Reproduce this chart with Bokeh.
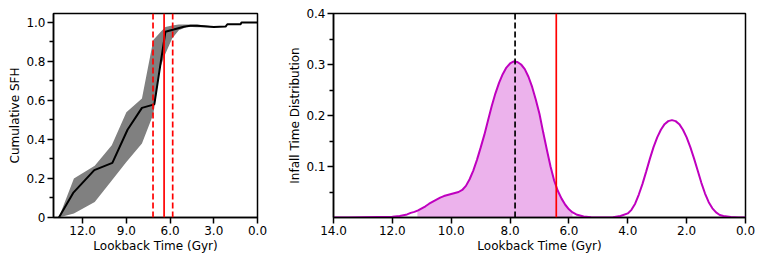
import numpy as np
from bokeh.plotting import figure
from bokeh.layouts import row
from bokeh.models import Range1d, FixedTicker, PrintfTickFormatter, Span
from bokeh.embed import file_html
from bokeh.resources import INLINE

# ---------------- data: left panel (cumulative SFH) ----------------
sfh_t = [13.63, 12.65, 11.2, 9.96, 8.92, 7.93, 7.08, 6.32, 5.75, 5.06, 4.6, 4.14, 3.0, 2.19, 2.07, 1.15, 1.1, 0.0]
sfh_v = [0.0, 0.126, 0.243, 0.28, 0.45, 0.562, 0.58, 0.952, 0.964, 0.978, 0.983, 0.983, 0.977, 0.979, 0.991, 0.991, 1.0, 1.0]

band_t = [13.63, 12.6, 11.17, 10.0, 9.0, 7.93, 7.15, 6.67, 6.32, 5.86, 5.4, 4.83, 4.16, 3.1]
band_hi = [0.0, 0.20, 0.265, 0.37, 0.54, 0.61, 0.91, 0.95, 0.977, 0.985, 0.99, 0.99, 0.99, 0.98]
band_lo = [0.0, 0.02, 0.08, 0.19, 0.285, 0.38, 0.53, 0.77, 0.84, 0.918, 0.96, 0.978, 0.975, 0.975]

sfh_median = 6.41
sfh_lo_q = 7.17
sfh_hi_q = 5.82

left_xticks = [12.0, 9.0, 6.0, 3.0, 0.0]
left_yticks = [0.0, 0.2, 0.4, 0.6, 0.8, 1.0]
left_yminor = [0.1, 0.3, 0.5, 0.7, 0.9]

# ---------------- data: right panel (infall time distribution) ----------------
inf_t = [14.0, 13.5, 13.0, 12.5, 12.0, 11.75, 11.5, 11.375, 11.25, 11.125,
         11.0, 10.875, 10.75, 10.625, 10.5, 10.375, 10.25, 10.125,
         10.0, 9.875, 9.75, 9.625, 9.5, 9.375, 9.25, 9.125,
         9.0, 8.875, 8.75, 8.625, 8.5, 8.375, 8.25, 8.125,
         8.0, 7.875, 7.75, 7.625, 7.5, 7.375, 7.25, 7.125,
         7.0, 6.875, 6.75, 6.625, 6.5, 6.375, 6.25, 6.125,
         6.0, 5.875, 5.75, 5.5, 5.25, 5.0, 4.75, 4.5, 4.25,
         4.0, 3.875, 3.75, 3.625, 3.5, 3.375, 3.25, 3.125,
         3.0, 2.875, 2.75, 2.625, 2.5, 2.375, 2.25, 2.125,
         2.0, 1.875, 1.75, 1.625, 1.5, 1.375, 1.25, 1.125,
         1.0, 0.875, 0.75, 0.5, 0.25, 0.0]
inf_v = [0.0, 0.0, 0.0005, 0.001, 0.0015, 0.003, 0.006, 0.009, 0.011, 0.014,
         0.018, 0.022, 0.027, 0.031, 0.035, 0.039, 0.042, 0.044,
         0.046, 0.048, 0.050, 0.054, 0.062, 0.075, 0.092, 0.113,
         0.137, 0.162, 0.190, 0.218, 0.243, 0.264, 0.281, 0.294,
         0.302, 0.306, 0.305, 0.300, 0.291, 0.276, 0.256, 0.231,
         0.203, 0.167, 0.133, 0.100, 0.072, 0.052, 0.037, 0.025,
         0.016, 0.010, 0.006, 0.002, 0.0005, 0.0, 0.0, 0.0005, 0.003,
         0.008, 0.015, 0.027, 0.045, 0.066, 0.090, 0.115, 0.138,
         0.157, 0.172, 0.183, 0.189, 0.191, 0.189, 0.183, 0.172,
         0.157, 0.138, 0.116, 0.092, 0.068, 0.047, 0.030, 0.018,
         0.010, 0.005, 0.003, 0.001, 0.0, 0.0]

fill_start = 11.15
fill_end = 5.88
infall_peak = 7.83
infall_ref = 6.43

right_xticks = [14.0, 12.0, 10.0, 8.0, 6.0, 4.0, 2.0, 0.0]
right_yticks = [0.1, 0.2, 0.3, 0.4]
right_yminor = [0.05, 0.15, 0.25, 0.35]

FONT = "DejaVu Sans"
MAGENTA = "#bf00bf"


def style(p):
    p.xgrid.visible = False
    p.ygrid.visible = False
    p.outline_line_color = "black"
    p.outline_line_width = 1.5
    p.background_fill_color = "white"
    p.border_fill_color = "white"
    for ax in (p.xaxis[0], p.yaxis[0]):
        ax.axis_line_color = "black"
        ax.axis_line_width = 1.5
        ax.major_tick_line_color = "black"
        ax.major_tick_line_width = 1.5
        ax.minor_tick_line_color = "black"
        ax.minor_tick_line_width = 1.5
        ax.major_tick_in = 0
        ax.major_tick_out = 6
        ax.minor_tick_in = 0
        ax.minor_tick_out = 4
        ax.major_label_text_font = FONT
        ax.major_label_text_font_size = "12px"
        ax.major_label_text_color = "black"
        ax.axis_label_text_font = FONT
        ax.axis_label_text_font_size = "12px"
        ax.axis_label_text_font_style = "normal"
        ax.axis_label_text_color = "black"
        ax.major_label_standoff = 2
        ax.axis_label_standoff = 1


# ---------------- left figure ----------------
p1 = figure(frame_width=204, frame_height=204, output_backend="svg", toolbar_location=None,
            x_range=Range1d(14.0, 0.0), y_range=Range1d(0.0, 1.046),
            min_border_left=53, min_border_right=10, min_border_top=13, min_border_bottom=34)
style(p1)
p1.varea(x=band_t, y1=band_lo, y2=band_hi, fill_color="#808080", fill_alpha=1.0)
p1.line(sfh_t, sfh_v, line_color="black", line_width=2)
for loc, dash in ((sfh_lo_q, "6 3"), (sfh_median, "solid"), (sfh_hi_q, "6 3")):
    p1.add_layout(Span(location=loc, dimension="height", line_color="red",
                       line_width=1.7, line_dash=dash))
p1.xaxis.ticker = FixedTicker(ticks=left_xticks, minor_ticks=[])
p1.xaxis.formatter = PrintfTickFormatter(format="%.1f")
p1.yaxis.ticker = FixedTicker(ticks=left_yticks, minor_ticks=left_yminor)
p1.yaxis.formatter = PrintfTickFormatter(format="%.1f")
p1.yaxis.major_label_overrides = {0: "0"}
p1.xaxis.axis_label = "Lookback Time (Gyr)"
p1.yaxis.axis_label = "Cumulative SFH"

# ---------------- right figure ----------------
p2 = figure(frame_width=412, frame_height=204, output_backend="svg", toolbar_location=None,
            x_range=Range1d(14.0, 0.0), y_range=Range1d(0.0, 0.4),
            min_border_left=66, min_border_right=15, min_border_top=13, min_border_bottom=34)
style(p2)
t_arr = np.array(inf_t)
v_arr = np.array(inf_v)
mask = (t_arr > fill_end) & (t_arr < fill_start)
order = np.argsort(t_arr)
fx = np.concatenate(([fill_start], t_arr[mask], [fill_end]))
fy = np.concatenate(([np.interp(fill_start, t_arr[order], v_arr[order])], v_arr[mask],
                     [np.interp(fill_end, t_arr[order], v_arr[order])]))
p2.varea(x=fx, y1=np.zeros_like(fy), y2=fy, fill_color=MAGENTA, fill_alpha=0.3)
p2.line(inf_t, inf_v, line_color=MAGENTA, line_width=2)
p2.add_layout(Span(location=infall_peak, dimension="height", line_color="black",
                   line_width=1.7, line_dash="6 3"))
p2.add_layout(Span(location=infall_ref, dimension="height", line_color="red",
                   line_width=1.7))
p2.xaxis.ticker = FixedTicker(ticks=right_xticks, minor_ticks=[])
p2.xaxis.formatter = PrintfTickFormatter(format="%.1f")
p2.yaxis.ticker = FixedTicker(ticks=right_yticks, minor_ticks=right_yminor)
p2.yaxis.formatter = PrintfTickFormatter(format="%.1f")
p2.xaxis.axis_label = "Lookback Time (Gyr)"
p2.yaxis.axis_label = "Infall Time Distribution"

layout = row(p1, p2)
open("out.html", "w").write(file_html(layout, INLINE))
